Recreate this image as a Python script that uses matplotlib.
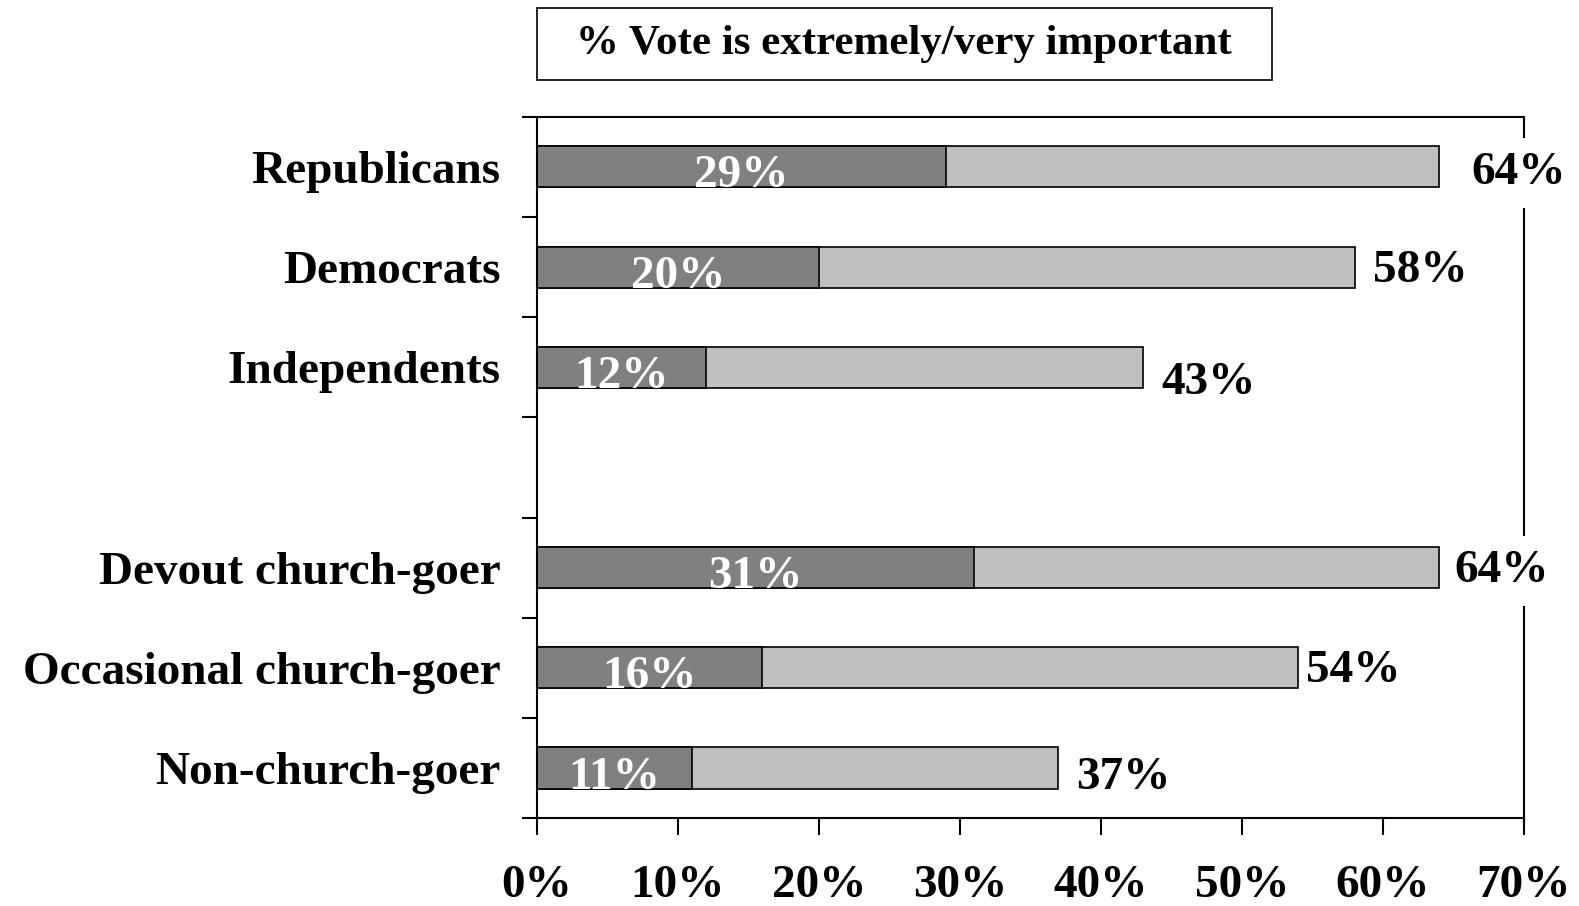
# importance of voting, stacked horizontal bars by party and church attendance

import matplotlib.pyplot as plt
from matplotlib.patches import Rectangle
import numpy as np

parties = ['Republicans', 'Democrats', 'Independents']
church = ['Devout church-goer', 'Occasional church-goer', 'Non-church-goer']
extremely = [29, 20, 12, 31, 16, 11]     # % extremely important
very_total = [64, 58, 43, 64, 54, 37]    # % extremely/very important

categories = parties + church
# leave one empty slot between the two groups
pos = np.array(list(range(len(parties))) + [len(parties) + 1 + i for i in range(len(church))])

plt.rcParams['font.family'] = ['Liberation Serif', 'DejaVu Serif']
plt.rcParams['font.weight'] = 'bold'

fig = plt.figure(figsize=(15.79, 9.06), dpi=100)
ax = fig.add_axes([0.340, 0.097, 0.625, 0.774])

h = 0.41
ax.barh(pos, very_total, height=h, color='#c0c0c0', edgecolor='black', linewidth=1.2, zorder=6)
ax.barh(pos, extremely, height=h, color='#808080', edgecolor='black', linewidth=1.2, zorder=6)

# white labels inside the dark part, sitting on the bar bottom
for p, v in zip(pos, extremely):
    ax.text(v / 2, p + h / 2, f'{v}%', color='white', fontsize=34, fontweight='bold',
            ha='center', va='baseline', zorder=7)

# totals to the right of each bar (nudges in px); the white box breaks the right spine
nudge_x = [32, 18, 18, 15, 8, 18]
nudge_y = [6, 4, 16, 3, 3, 10]
for p, v, dx, dy in zip(pos, very_total, nudge_x, nudge_y):
    ax.annotate(f'{v}%', xy=(v, p), xytext=(dx * 0.72, -dy * 0.72), textcoords='offset points',
                fontsize=34, fontweight='bold', ha='left', va='center', annotation_clip=False,
                bbox=dict(boxstyle='square,pad=0.3', fc='white', ec='none'), zorder=5)

ax.set_xlim(0, 70)
ax.set_ylim(pos.max() + 0.5, -0.5)
ax.set_xticks(np.arange(0, 71, 10))
ax.set_xticklabels([f'{t}%' for t in range(0, 71, 10)])
ax.set_yticks(pos)
ax.set_yticklabels(categories)
ax.set_yticks(np.arange(-0.5, pos.max() + 0.6, 1), minor=True)

ax.tick_params(axis='x', length=12, width=1.5, pad=22, labelsize=34)
ax.tick_params(axis='y', which='major', length=0, pad=26, labelsize=34)
ax.tick_params(axis='y', which='minor', length=11, width=1.5)

for s in ax.spines.values():
    s.set_linewidth(1.5)
# only the right spine is broken by the labels
ax.spines['bottom'].set_zorder(8)
ax.spines['left'].set_zorder(8)
ax.spines['top'].set_zorder(8)

# boxed heading
fig.patches.append(Rectangle((0.3399, 0.9122), 0.4656, 0.0789, transform=fig.transFigure,
                             fc='white', ec='black', lw=1.2))
fig.text(0.5727, 0.9517, '% Vote is extremely/very important', fontsize=31, fontweight='bold',
         ha='center', va='center')

fig.savefig('out.png', dpi=100)
